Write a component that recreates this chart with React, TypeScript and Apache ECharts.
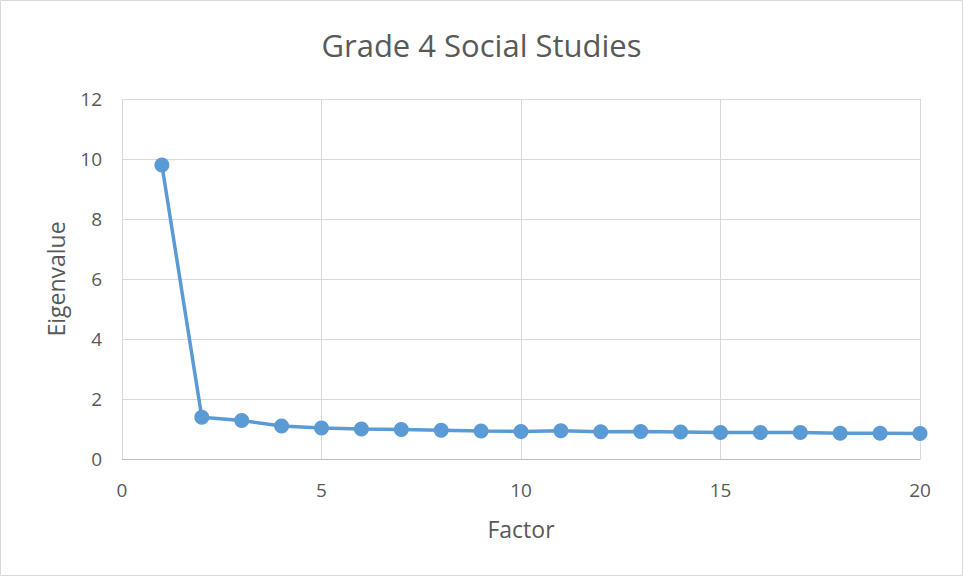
import React, { useEffect, useRef } from "react";
import * as echarts from "echarts";

const factors = [1, 2, 3, 4, 5, 6, 7, 8, 9, 10, 11, 12, 13, 14, 15, 16, 17, 18, 19, 20];
const eigenvalues = [9.8, 1.39, 1.28, 1.1, 1.03, 1.0, 0.98, 0.96, 0.93, 0.92, 0.94, 0.91, 0.92, 0.9, 0.88, 0.88, 0.88, 0.86, 0.86, 0.85];
const titleText = "Grade 4 Social Studies";
const xName = "Factor";
const yName = "Eigenvalue";

const FONT = "'Open Sans', 'Liberation Sans', sans-serif";
const GREY = "#595959";

export default function App() {
  const ref = useRef<HTMLDivElement>(null);
  useEffect(() => {
    if (!ref.current) return;
    const chart = echarts.init(ref.current, null, { renderer: "svg" });
    chart.setOption({
      animation: false,
      backgroundColor: "#ffffff",
      title: {
        text: titleText,
        left: "center",
        top: 24,
        textStyle: { fontFamily: FONT, fontSize: 31, fontWeight: "normal", color: GREY },
      },
      graphic: [
        {
          type: "rect",
          shape: { x: 0.5, y: 0.5, width: 962, height: 575 },
          style: { fill: "none", stroke: "#d9d9d9", lineWidth: 1 },
          silent: true,
        },
      ],
      grid: { left: 122, right: 43, top: 99, bottom: 117 },
      xAxis: {
        type: "value",
        min: 0,
        max: 20,
        interval: 5,
        name: xName,
        nameLocation: "middle",
        nameGap: 58,
        nameTextStyle: { fontFamily: FONT, fontSize: 23, color: GREY },
        axisLine: { show: true, lineStyle: { color: "#bfbfbf", width: 1 } },
        axisTick: { show: false },
        axisLabel: { fontFamily: FONT, fontSize: 19, color: GREY, margin: 21 },
        splitLine: { show: true, lineStyle: { color: "#d9d9d9", width: 1 } },
      },
      yAxis: {
        type: "value",
        min: 0,
        max: 12,
        interval: 2,
        name: yName,
        nameLocation: "middle",
        nameGap: 55,
        nameTextStyle: { fontFamily: FONT, fontSize: 23, color: GREY },
        axisLine: { show: false },
        axisTick: { show: false },
        axisLabel: { fontFamily: FONT, fontSize: 19, color: GREY, margin: 20 },
        splitLine: { show: true, lineStyle: { color: "#d9d9d9", width: 1 } },
      },
      series: [
        {
          type: "line",
          data: factors.map((f, i) => [f, eigenvalues[i]]),
          symbol: "circle",
          symbolSize: 15,
          lineStyle: { color: "#5b9bd5", width: 3.5 },
          itemStyle: { color: "#5b9bd5" },
        },
      ],
    });
    return () => chart.dispose();
  }, []);
  return (
    <div
      ref={ref}
      style={{ position: "fixed", left: 0, top: 0, width: 963, height: 576 }}
    />
  );
}
